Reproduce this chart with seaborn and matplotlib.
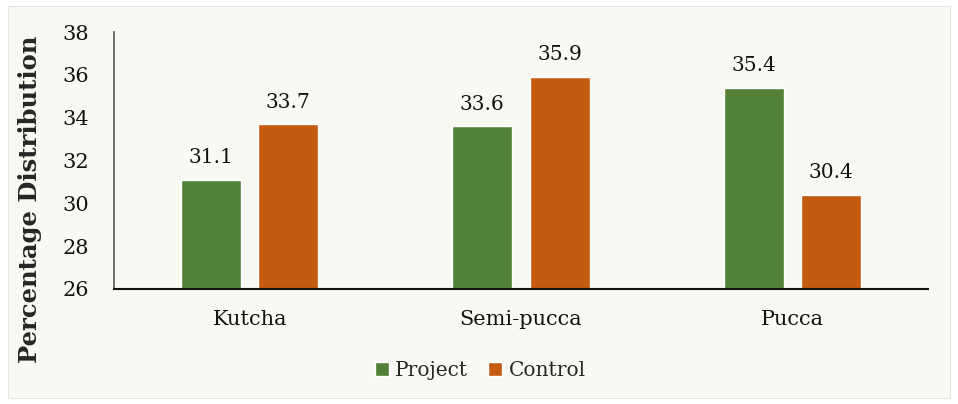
import pandas as pd
import matplotlib.pyplot as plt
import seaborn as sns
from matplotlib.patches import Rectangle

# data
categories = ["Kutcha", "Semi-pucca", "Pucca"]
project = [31.1, 33.6, 35.4]
control = [33.7, 35.9, 30.4]

df = pd.DataFrame({
    "type": categories * 2,
    "group": ["Project"] * 3 + ["Control"] * 3,
    "value": project + control,
})

sns.set_style("white")
plt.rcParams["font.family"] = ["DejaVu Serif"]

bg = "#f9f9f4"
fig = plt.figure(figsize=(9.58, 4.04), dpi=100)
fig.patch.set_facecolor("white")
fig.patches.append(Rectangle((8 / 958, 6 / 404), 942 / 958, 392 / 404,
                             transform=fig.transFigure, facecolor=bg,
                             edgecolor="#e4e4e4", linewidth=0.8, zorder=-1))
ax = fig.add_axes([114 / 958, 1 - 289 / 404, (928 - 114) / 958, (289 - 32) / 404])
ax.set_facecolor(bg)

sns.barplot(data=df, x="type", y="value", hue="group",
            palette={"Project": "#538135", "Control": "#c55a11"},
            width=0.57, gap=0.22, saturation=1, ax=ax)

for c in ax.containers:
    ax.bar_label(c, fmt="%.1f", padding=9, fontsize=14.5, color="#111111")

ax.set_ylim(26, 38)
ax.set_yticks(range(26, 39, 2))
ax.set_xlim(-0.5, 2.5)
ax.tick_params(axis="both", length=0, labelsize=15, colors="#111111")
ax.tick_params(axis="y", pad=18)
ax.tick_params(axis="x", pad=15)
ax.set_xlabel("")
ax.set_ylabel("Percentage Distribution", fontsize=17.5, fontweight="bold")
ax.yaxis.set_label_coords(-0.088, 0.35)

for s in ["top", "right"]:
    ax.spines[s].set_visible(False)
ax.spines["left"].set_color("#555555")
ax.spines["left"].set_linewidth(1.2)
ax.spines["bottom"].set_color("#111111")
ax.spines["bottom"].set_linewidth(1.5)

ax.legend(loc="upper center", bbox_to_anchor=(0.45, -0.21), ncol=2, frameon=False,
          fontsize=14.5, handlelength=0.7, handleheight=0.7, handletextpad=0.3,
          columnspacing=1.0)

fig.savefig("out.png", dpi=100, facecolor=fig.get_facecolor())
